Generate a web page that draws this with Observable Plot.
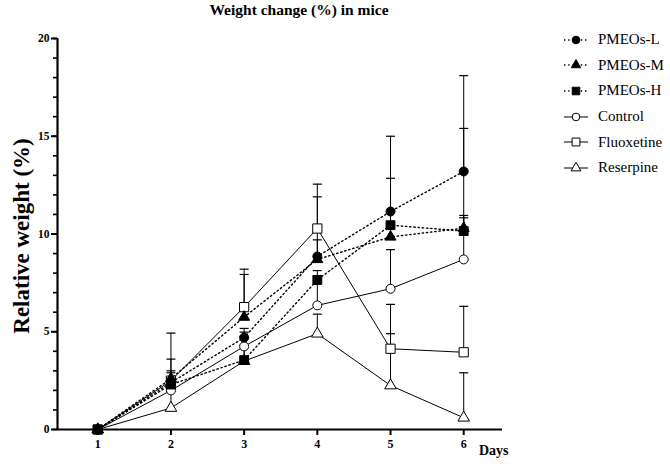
<!DOCTYPE html>
<html><head><meta charset="utf-8">
<script src="https://cdn.jsdelivr.net/npm/d3@7"></script>
<script src="https://cdn.jsdelivr.net/npm/@observablehq/plot@0.6"></script>
<style>
body{margin:0;background:#fff;font-family:"Liberation Serif","Times New Roman",serif;color:#000;}
#wrap{position:relative;width:670px;height:464px;overflow:hidden;}
#title{position:absolute;left:0;top:1px;width:598px;text-align:center;font-weight:bold;font-size:15.5px;}
#chart{position:absolute;left:0;top:24px;}
#ylab{position:absolute;left:22px;top:236px;transform:translate(-50%,-50%) rotate(-90deg);white-space:nowrap;font-weight:bold;font-size:23px;}
#xlab{position:absolute;left:479px;top:443px;font-weight:bold;font-size:14px;}
#legend{position:absolute;left:562px;top:27px;font-size:15px;}
.row{display:flex;align-items:center;height:25.6px;}
.row span{margin-left:8px;}
</style></head>
<body>
<div id="wrap">
<div id="title">Weight change (%) in mice</div>
<div id="chart"></div>
<div id="ylab">Relative weight (%)</div>
<div id="xlab">Days</div>
<div id="legend"></div>
</div>
<script>
const days = [1, 2, 3, 4, 5, 6];
const seriesNames = ["PMEOs-L", "PMEOs-M", "PMEOs-H", "Control", "Fluoxetine", "Reserpine"];
const pmeosL = [0, 2.4, 4.7, 8.85, 11.15, 13.2];
const pmeosM = [0, 2.6, 5.75, 8.7, 9.85, 10.3];
const pmeosH = [0, 2.3, 3.55, 7.65, 10.45, 10.15];
const control = [0, 2.0, 4.25, 6.35, 7.2, 8.7];
const fluoxetine = [0, 2.5, 6.26, 10.28, 4.13, 3.95];
const reserpine = [0, 1.1, 3.5, 4.9, 2.25, 0.6];
// upper error (SD)
const sdL = [0, 0.6, 0.47, 3.05, 3.85, 4.9];
const sdM = [0, 1.0, 2.18, 1.0, 0.5, 0.65];
const sdH = [0, 0.6, 1.2, 0.48, 2.4, 0.68];
const sdControl = [0, 0.5, 0.73, 1.5, 2.0, 6.7];
const sdFluoxetine = [0, 2.43, 1.94, 2.27, 2.27, 2.35];
const sdReserpine = [0, 1.0, 0.8, 1.0, 2.65, 2.3];
const yTicks = [0, 5, 10, 15, 20];
const yMinorTicks = [0,1,2,3,4,5,6,7,8,9,10,11,12,13,14,15,16,17,18,19,20];
const xDomain = [0.45, 6.53];
const yDomain = [0, 20];

const styles = {
  "PMEOs-L": {symbol: "circle", fill: "black", dash: "1.4,2.8", r: 4.5},
  "PMEOs-M": {symbol: "triangle", fill: "black", dash: "1.4,2.8", r: 4.1},
  "PMEOs-H": {symbol: "square", fill: "black", dash: "1.4,2.8", r: 5.0},
  "Control": {symbol: "circle", fill: "white", dash: null, r: 4.5},
  "Fluoxetine": {symbol: "square", fill: "white", dash: null, r: 5.2},
  "Reserpine": {symbol: "triangle", fill: "white", dash: null, r: 4.3}
};
const valuesBy = {"PMEOs-L": pmeosL, "PMEOs-M": pmeosM, "PMEOs-H": pmeosH, "Control": control, "Fluoxetine": fluoxetine, "Reserpine": reserpine};
const sdBy = {"PMEOs-L": sdL, "PMEOs-M": sdM, "PMEOs-H": sdH, "Control": sdControl, "Fluoxetine": sdFluoxetine, "Reserpine": sdReserpine};

const rows = seriesNames.flatMap(s => days.map((d, i) => ({series: s, day: d, value: valuesBy[s][i], top: valuesBy[s][i] + sdBy[s][i], sd: sdBy[s][i]})));
const errRows = rows.filter(r => r.sd > 0);

const capSymbol = {draw(ctx, size) { const w = 4.5; ctx.moveTo(-w, 0); ctx.lineTo(w, 0); }};

const marks = [
  Plot.ruleX(errRows, {x: "day", y1: "value", y2: "top", stroke: "black", strokeWidth: 1}),
  Plot.dot(errRows, {x: "day", y: "top", symbol: capSymbol, stroke: "black", strokeWidth: 1.2, fill: "none"})
];
for (const s of seriesNames) {
  const st = styles[s];
  const data = rows.filter(r => r.series === s);
  marks.push(Plot.line(data, {x: "day", y: "value", stroke: "black", strokeWidth: st.dash ? 1.4 : 1, strokeDasharray: st.dash || undefined}));
}
for (const s of seriesNames.slice().reverse()) {
  const st = styles[s];
  const data = rows.filter(r => r.series === s);
  marks.push(Plot.dot(data, {x: "day", y: "value", symbol: st.symbol, r: st.r, fill: st.fill, stroke: "black", strokeWidth: 1}));
}
marks.push(
  Plot.ruleY([yDomain[0]], {stroke: "black", strokeWidth: 2.2}),
  Plot.ruleX([xDomain[0]], {stroke: "black", strokeWidth: 2.2}),
  Plot.axisX({ticks: days, tickSize: 6, tickPadding: 4, strokeWidth: 2, tickFormat: d => String(d), label: null, fontWeight: "bold", fontSize: 12}),
  Plot.axisY({ticks: yMinorTicks, tickSize: 4, strokeWidth: 1.6, tickFormat: null, text: null, label: null}),
  Plot.axisY({ticks: yTicks, tickSize: 6, tickPadding: 2, strokeWidth: 2, tickFormat: d => String(d), label: null, fontWeight: "bold", fontSize: 11.5})
);

const chart = Plot.plot({
  width: 670,
  height: 440,
  marginLeft: 57,
  marginRight: 168,
  marginTop: 14,
  marginBottom: 35,
  style: {fontFamily: "'Liberation Serif', 'Times New Roman', serif", fontSize: "11px", color: "black", background: "white"},
  x: {domain: xDomain},
  y: {domain: yDomain},
  marks
});
document.getElementById("chart").appendChild(chart);

// legend
const leg = document.getElementById("legend");
for (const s of seriesNames) {
  const st = styles[s];
  const row = document.createElement("div");
  row.className = "row";
  const svg = d3.create("svg").attr("width", 28).attr("height", 14);
  svg.append("line").attr("x1", 2).attr("x2", 26).attr("y1", 7).attr("y2", 7)
    .attr("stroke", "black").attr("stroke-width", st.dash ? 1.3 : 1)
    .attr("stroke-dasharray", st.dash || null);
  const sym = {circle: d3.symbolCircle, square: d3.symbolSquare, triangle: d3.symbolTriangle}[st.symbol];
  svg.append("path").attr("transform", "translate(14,7)")
    .attr("d", d3.symbol(sym, Math.PI * (st.r * 0.85) ** 2)())
    .attr("fill", st.fill).attr("stroke", "black");
  row.appendChild(svg.node());
  const t = document.createElement("span");
  t.textContent = s;
  row.appendChild(t);
  leg.appendChild(row);
}
</script>
</body></html>
